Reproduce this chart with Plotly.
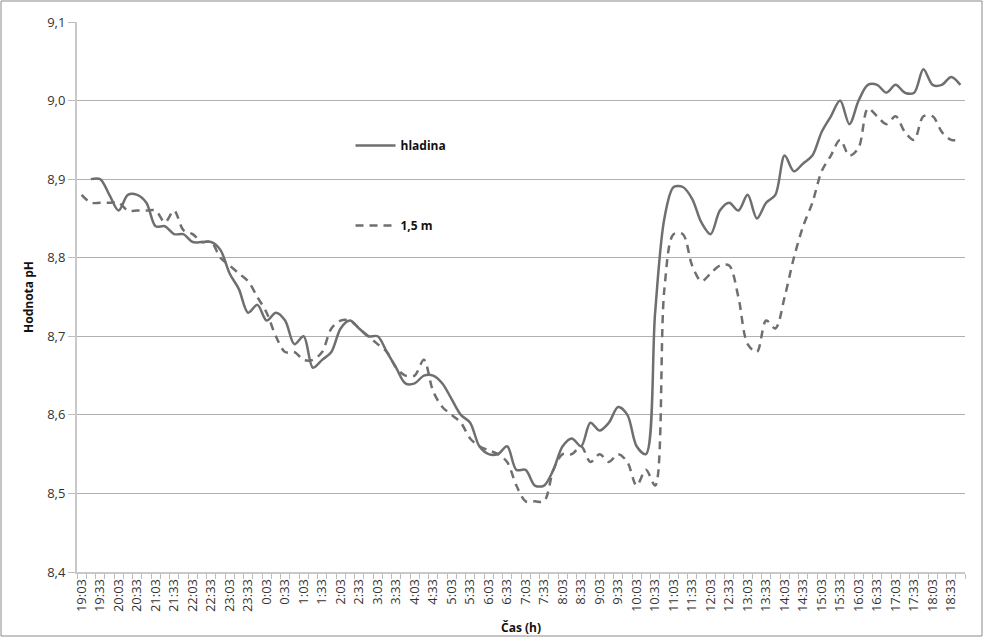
import plotly.graph_objects as go

# measurement times, every 15 minutes
casy = ["19:03", "19:18", "19:33", "19:48", "20:03", "20:18", "20:33", "20:48",
        "21:03", "21:18", "21:33", "21:48", "22:03", "22:18", "22:33", "22:48",
        "23:03", "23:18", "23:33", "23:48", "0:03", "0:18", "0:33", "0:48",
        "1:03", "1:18", "1:33", "1:48", "2:03", "2:18", "2:33", "2:48",
        "3:03", "3:18", "3:33", "3:48", "4:03", "4:18", "4:33", "4:48",
        "5:03", "5:18", "5:33", "5:48", "6:03", "6:18", "6:33", "6:48",
        "7:03", "7:18", "7:33", "7:48", "8:03", "8:18", "8:33", "8:48",
        "9:03", "9:18", "9:33", "9:48", "10:03", "10:18", "10:33", "10:48",
        "11:03", "11:18", "11:33", "11:48", "12:03", "12:18", "12:33", "12:48",
        "13:03", "13:18", "13:33", "13:48", "14:03", "14:18", "14:33", "14:48",
        "15:03", "15:18", "15:33", "15:48", "16:03", "16:18", "16:33", "16:48",
        "17:03", "17:18", "17:33", "17:48", "18:03", "18:18", "18:33", "18:48"]

hladina = [None, 8.90, 8.90, 8.88, 8.86, 8.88, 8.88, 8.87,
           8.84, 8.84, 8.83, 8.83, 8.82, 8.82, 8.82, 8.81,
           8.78, 8.76, 8.73, 8.74, 8.72, 8.73, 8.72, 8.69,
           8.70, 8.66, 8.67, 8.68, 8.71, 8.72, 8.71, 8.70,
           8.70, 8.68, 8.66, 8.64, 8.64, 8.65, 8.65, 8.64,
           8.62, 8.60, 8.59, 8.56, 8.55, 8.55, 8.56, 8.53,
           8.53, 8.51, 8.51, 8.53, 8.56, 8.57, 8.56, 8.59,
           8.58, 8.59, 8.61, 8.60, 8.56, 8.55, 8.73, 8.85,
           8.89, 8.89, 8.875, 8.845, 8.83, 8.86, 8.87, 8.86,
           8.88, 8.85, 8.87, 8.88, 8.93, 8.91, 8.92, 8.93,
           8.96, 8.98, 9.00, 8.97, 9.00, 9.02, 9.02, 9.01,
           9.02, 9.01, 9.01, 9.04, 9.02, 9.02, 9.03, 9.02]

hloubka_15 = [8.88, 8.87, 8.87, 8.87, 8.87, 8.86, 8.86, 8.86,
              8.86, 8.845, 8.86, 8.835, 8.83, 8.82, 8.82, 8.80,
              8.79, 8.78, 8.77, 8.75, 8.73, 8.70, 8.68, 8.68,
              8.67, 8.67, 8.68, 8.71, 8.72, 8.72, 8.71, 8.70,
              8.69, 8.68, 8.66, 8.65, 8.65, 8.67, 8.63, 8.61,
              8.60, 8.59, 8.57, 8.56, 8.555, 8.55, 8.54, 8.51,
              8.49, 8.49, 8.49, 8.53, 8.55, 8.55, 8.56, 8.54,
              8.55, 8.54, 8.55, 8.54, 8.51, 8.53, 8.51, 8.76,
              8.83, 8.83, 8.79, 8.77, 8.78, 8.79, 8.79, 8.75,
              8.69, 8.68, 8.72, 8.71, 8.75, 8.80, 8.84, 8.87,
              8.91, 8.93, 8.95, 8.93, 8.94, 8.99, 8.98, 8.97,
              8.98, 8.96, 8.95, 8.98, 8.98, 8.96, 8.95, 8.95]

idx = list(range(len(casy)))
barva = "#6f6f6f"
pismo = "Open Sans"

fig = go.Figure()
fig.add_trace(go.Scatter(x=idx, y=hladina, mode="lines", name="<b>hladina</b>", legendgroup="a",
                         line=dict(color=barva, width=2.5, shape="spline", smoothing=0.9)))
fig.add_trace(go.Scatter(x=idx, y=hloubka_15, mode="lines", name="<b>1,5 m</b>", legendgroup="b",
                         line=dict(color=barva, width=2.5, shape="spline", smoothing=0.9, dash="8px,6px")))

fig.update_layout(
    width=984, height=638,
    margin=dict(l=77, r=19, t=22, b=66),
    plot_bgcolor="white", paper_bgcolor="white",
    separators=", ",
    font=dict(family=pismo, size=12, color="#222"),
    legend=dict(x=0.308, y=0.802, xanchor="left", yanchor="top", tracegroupgap=61,
                font=dict(size=12, color="#111"), bgcolor="rgba(0,0,0,0)", itemwidth=40),
    xaxis=dict(
        range=[-0.5, len(casy) - 0.5], automargin=False,
        tickmode="array", tickvals=idx[::2], ticktext=casy[::2], tickangle=-90,
        tickfont=dict(size=13, color="#333"),
        ticks="", showgrid=False, zeroline=False,
        minor=dict(ticks="outside", tick0=-0.5, dtick=1, ticklen=5, tickcolor="#bdbdbd", showgrid=False),
        showline=True, linecolor="#c8c8c8", linewidth=1.5,
        title=dict(text="<b>Čas (h)</b>", font=dict(size=12, color="#111"), standoff=12),
    ),
    yaxis=dict(
        range=[8.4, 9.1], dtick=0.1, tickformat=".1f", automargin=False,
        tickfont=dict(size=13, color="#333"),
        ticks="outside", ticklen=7, tickcolor="#bdbdbd",
        showgrid=True, gridcolor="#b0b0b0", gridwidth=1, zeroline=False,
        showline=True, linecolor="#c8c8c8", linewidth=2,
        title=dict(text="<b>Hodnota pH</b>", font=dict(size=12, color="#111"), standoff=11),
    ),
    shapes=[dict(type="rect", xref="paper", yref="paper",
                 x0=-76 / 888, x1=905 / 888, y0=-64 / 550, y1=571 / 550,
                 line=dict(color="#8a8a8a", width=1), fillcolor="rgba(0,0,0,0)")],
)

fig.write_html("out.html", config={"displayModeBar": False},
               post_script="document.body.style.margin = '0';")
